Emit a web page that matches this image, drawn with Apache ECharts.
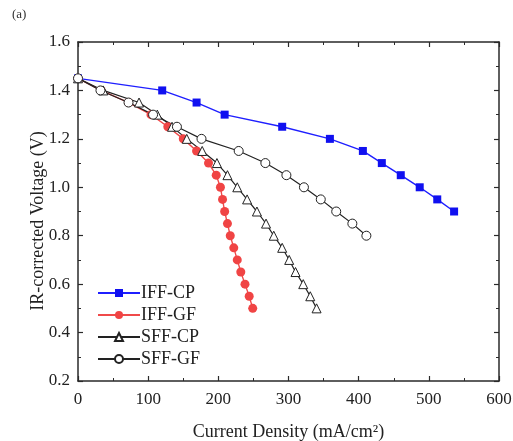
<!DOCTYPE html>
<html>
<head>
<meta charset="utf-8">
<script src="https://cdn.jsdelivr.net/npm/echarts@6/dist/echarts.min.js"></script>
<style>
  html, body { margin: 0; padding: 0; background: #fff; }
  #chart { width: 513px; height: 441px; }
</style>
</head>
<body>
<div id="chart"></div>
<script>
// Polarization curves: current density (mA/cm2) vs IR-corrected voltage (V)
const iffCp = [[0,1.45],[120,1.40],[169,1.35],[209,1.30],[291,1.25],[359,1.20],[406,1.15],[433,1.10],[460,1.05],[487,1.00],[512,0.95],[536,0.90]];
const iffGf = [[0,1.45],[33,1.40],[72,1.35],[104,1.30],[128,1.25],[150,1.20],[169,1.15],[186,1.10],[197,1.05],[203,1.00],[206,0.95],[209,0.90],[213,0.85],[217,0.80],[222,0.75],[227,0.70],[232,0.65],[238,0.60],[244,0.55],[249,0.50]];
const sffCp = [[0,1.45],[36,1.40],[87,1.35],[113,1.30],[134,1.25],[155,1.20],[177,1.15],[198,1.10],[213,1.05],[227,1.00],[241,0.95],[255,0.90],[268,0.85],[279,0.80],[291,0.75],[301,0.70],[310,0.65],[321,0.60],[331,0.55],[340,0.50]];
const sffGf = [[0,1.45],[32,1.40],[72,1.35],[107,1.30],[141,1.25],[176,1.20],[229,1.15],[267,1.10],[297,1.05],[322,1.00],[346,0.95],[368,0.90],[391,0.85],[411,0.80]];
const seriesNames = ['IFF-CP', 'IFF-GF', 'SFF-CP', 'SFF-GF'];

const FONT = 'Liberation Serif';
const AXIS_COLOR = '#2a2a2a';

const baseAxis = {
  axisLine: { show: true, onZero: false, lineStyle: { color: AXIS_COLOR, width: 1.5 } },
  axisTick: { show: true, inside: true, length: 5, lineStyle: { color: AXIS_COLOR, width: 1.2 } },
  minorTick: { show: true, splitNumber: 2, length: 3, lineStyle: { color: AXIS_COLOR, width: 1 } },
  splitLine: { show: false },
  axisLabel: { fontFamily: FONT, fontSize: 17, color: '#222' }
};

const chart = echarts.init(document.getElementById('chart'), null, { renderer: 'canvas' });

chart.setOption({
  animation: false,
  backgroundColor: '#fff',
  textStyle: { fontFamily: FONT },
  grid: { left: 78, top: 42, width: 421, height: 339, containLabel: false, outerBoundsMode: 'none' },
  graphic: [{
    type: 'text', left: 12, top: 8,
    style: { text: '(a)', font: '13px "Liberation Serif"', fill: '#333' }
  }],
  legend: {
    data: seriesNames,
    orient: 'vertical',
    left: 97, top: 284, padding: 0,
    itemWidth: 42, itemHeight: 10, itemGap: 4,
    textStyle: { fontFamily: FONT, fontSize: 18, color: '#222', lineHeight: 18, padding: [0, 0, 0, -4] }
  },
  xAxis: [
    Object.assign({}, baseAxis, {
      type: 'value', min: 0, max: 600, interval: 100, position: 'bottom',
      axisLabel: Object.assign({}, baseAxis.axisLabel, { margin: 10 }),
      name: 'Current Density (mA/cm²)', nameLocation: 'middle', nameGap: 42, nameMoveOverlap: false,
      nameTextStyle: { fontFamily: FONT, fontSize: 18, color: '#222' }
    }),
    Object.assign({}, baseAxis, {
      type: 'value', min: 0, max: 600, interval: 100, position: 'top',
      axisLabel: { show: false }
    })
  ],
  yAxis: [
    Object.assign({}, baseAxis, {
      type: 'value', min: 0.2, max: 1.6, interval: 0.2, position: 'left',
      axisLabel: Object.assign({}, baseAxis.axisLabel, { margin: 8, formatter: v => v.toFixed(1) }),
      name: 'IR-corrected Voltage (V)', nameLocation: 'middle', nameGap: 31, nameRotate: 90, nameMoveOverlap: false,
      nameTextStyle: { fontFamily: FONT, fontSize: 18, color: '#222', padding: [0, 19, 0, 0] }
    }),
    Object.assign({}, baseAxis, {
      type: 'value', min: 0.2, max: 1.6, interval: 0.2, position: 'right',
      axisLabel: { show: false }
    })
  ],
  series: [
    {
      name: 'IFF-CP', type: 'line', data: iffCp,
      symbol: 'rect', symbolSize: 8,
      lineStyle: { color: '#1f1fff', width: 1.4 },
      itemStyle: { color: '#1010f0' }
    },
    {
      name: 'IFF-GF', type: 'line', data: iffGf,
      symbol: 'circle', symbolSize: 9,
      lineStyle: { color: '#f04a4a', width: 1.4 },
      itemStyle: { color: '#f04444' }
    },
    {
      name: 'SFF-CP', type: 'line', data: sffCp,
      symbol: 'triangle', symbolSize: 9,
      lineStyle: { color: '#222', width: 1.2 },
      itemStyle: { color: '#fff', borderColor: '#222', borderWidth: 1 }
    },
    {
      name: 'SFF-GF', type: 'line', data: sffGf,
      symbol: 'circle', symbolSize: 9,
      lineStyle: { color: '#222', width: 1.2 },
      itemStyle: { color: '#fff', borderColor: '#222', borderWidth: 1 }
    }
  ]
});
</script>
</body>
</html>
